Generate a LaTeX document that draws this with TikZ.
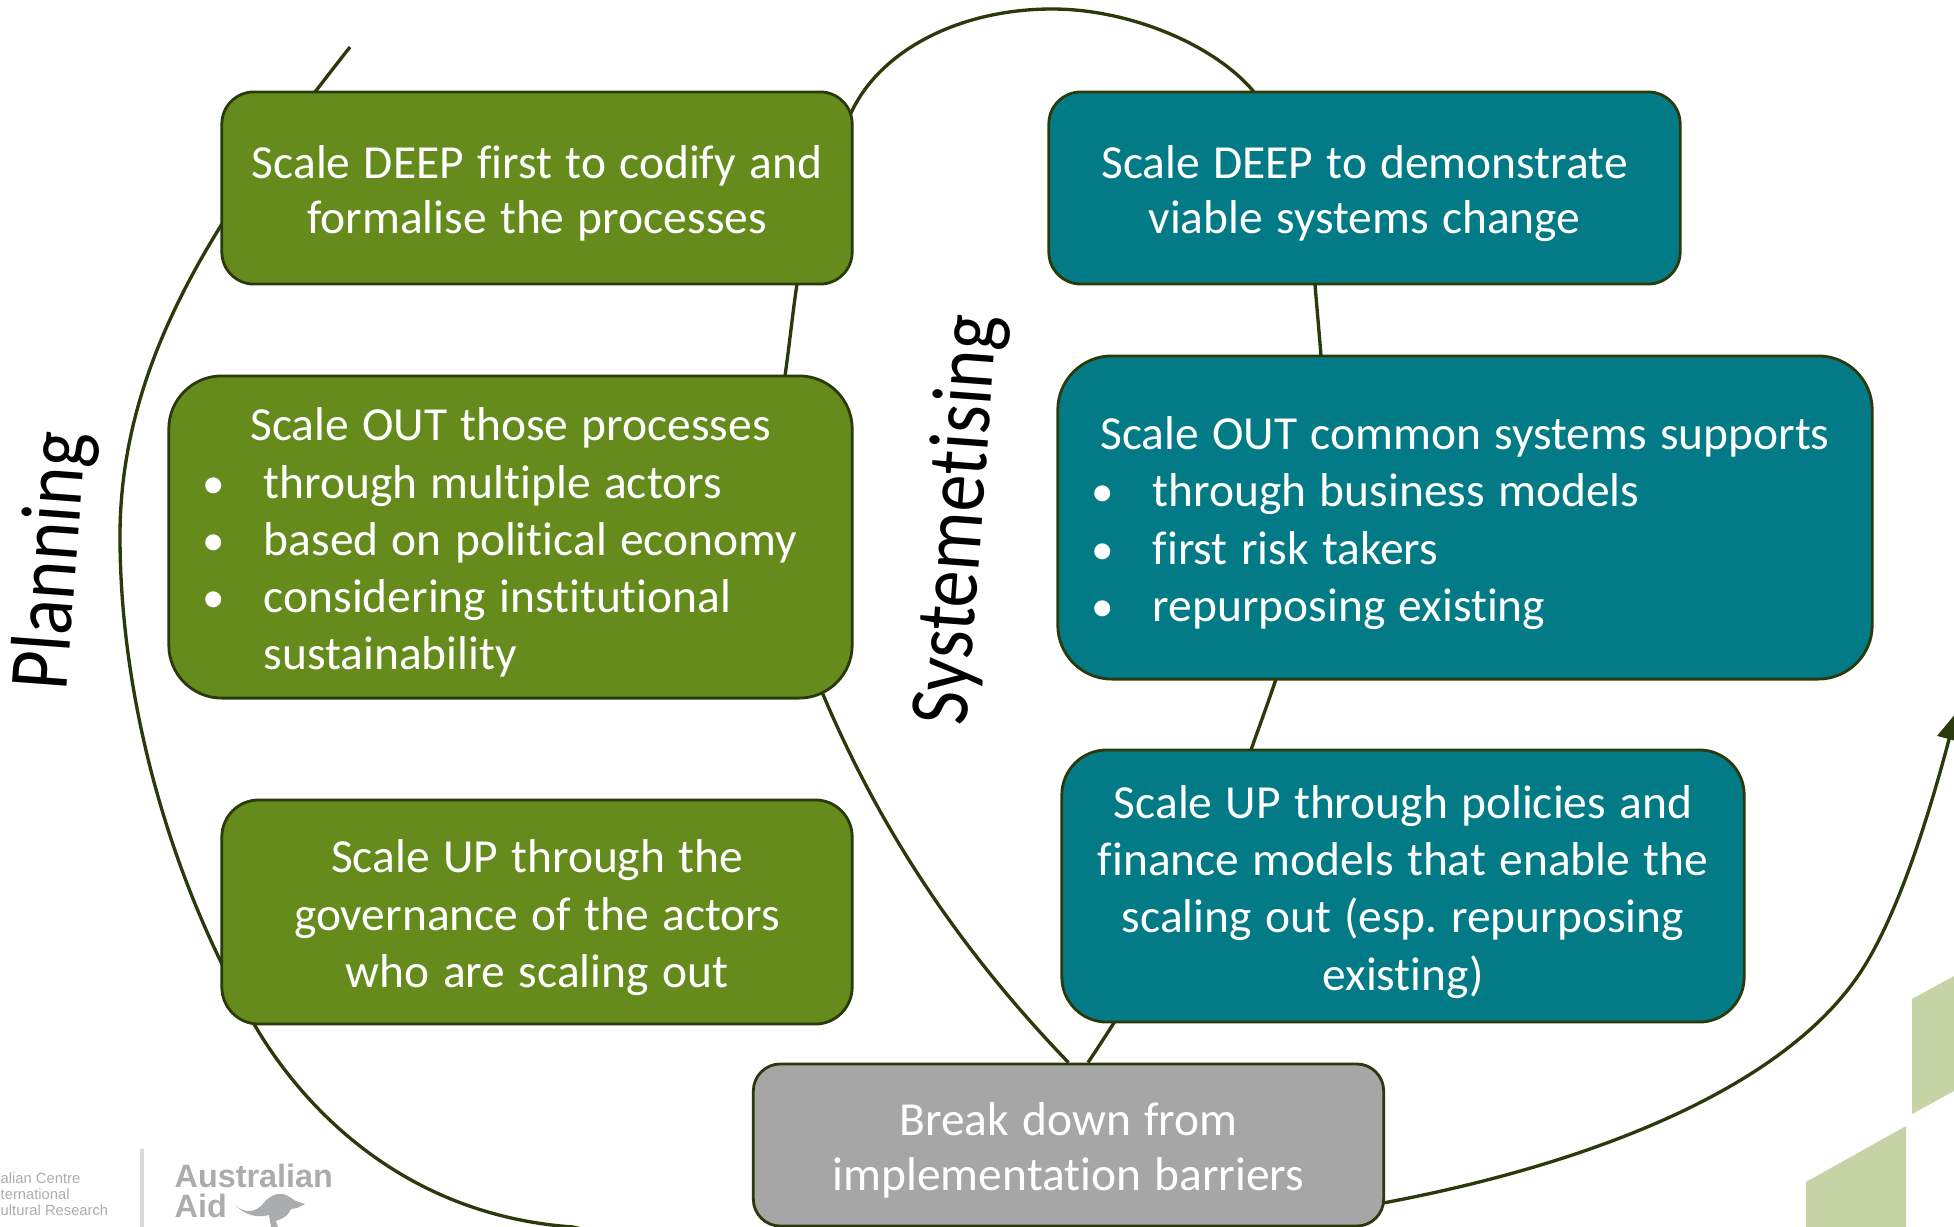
\documentclass[tikz,border=0pt]{standalone}
\usepackage{fontspec}
\setmainfont[Ligatures=NoCommon]{Carlito}
\newfontfamily\logofont{Liberation Sans}
\usetikzlibrary{backgrounds,arrows.meta}
\definecolor{leafgreen}{HTML}{658B1D}
\definecolor{tealblue}{HTML}{027B87}
\definecolor{midgrey}{HTML}{A6A6A6}
\definecolor{darkline}{HTML}{2B3A0A}
\definecolor{paleleaf}{HTML}{C6D3A4}
\definecolor{logogrey}{HTML}{ABACAE}
\tikzset{
  stagebox/.style n args={3}{draw=darkline,line width=0.8pt,rounded corners=#3,text=white,
    text width=#1,minimum height=#2,inner sep=0pt,align=center,
    execute at begin node={\frenchspacing\spaceskip=0.28em\rule{0pt}{12.6pt}},
    font=\fontsize{13.5}{16.3}\selectfont},
  deepbox/.style={font=\fontsize{13.5}{15.6}\selectfont},
  flowline/.style={draw=darkline,line width=0.95pt},
  phaselabel/.style={inner sep=0pt,rotate=85.7,font=\fontsize{21}{25}\selectfont},
  blockshape/.style={fill=paleleaf,draw=none},
}
\newcommand{\listline}[1]{\hspace{0.34cm}\makebox[0.61cm][l]{\scalebox{0.95}{\textbullet}}#1}
\begin{document}
\begin{tikzpicture}[x=0.01cm,y=-0.01cm]
\useasboundingbox (0,0) rectangle (1954,1227);
\clip (0,0) rectangle (1954,1227);
% pale shapes bottom right
\fill[blockshape] (1912,999) -- (1954,976) -- (1954,1091) -- (1912,1114) -- cycle;
\fill[blockshape] (1806,1182) -- (1906,1126) -- (1906,1227) -- (1806,1227) -- cycle;
% logos
\node[anchor=west,inner sep=0pt,text=logogrey,align=left,font=\logofont\fontsize{4.2}{4.6}\selectfont] (centrelogo) at (0,1194) {alian Centre\\ternational\\ultural Research};
\draw[logogrey!45,line width=1pt] (142,1149) -- (142,1227);
\node[anchor=west,inner sep=0pt,text=logogrey,align=left,font=\logofont\bfseries\fontsize{9.2}{8.5}\selectfont] (aidlogo) at (174,1191) {Australian\\Aid};
\fill[logogrey] (235,1205) .. controls (245,1214) and (255,1212) .. (262,1205) .. controls (268,1197) and (275,1193) .. (283,1194) .. controls (290,1196) and (293,1200) .. (296,1201) -- (305,1204) -- (297,1208) -- (291,1209) .. controls (289,1214) and (285,1218) .. (276,1221) -- (278,1227) -- (271,1227) -- (269,1215) .. controls (258,1218) and (246,1216) .. (235,1205) -- cycle;
% stage boxes
\node[stagebox={6.3cm}{1.92cm}{0.32cm},deepbox,fill=leafgreen] (deepgreen) at (537,188) {Scale DEEP first to codify and\\formalise the processes};
\node[stagebox={6.83cm}{3.22cm}{0.53cm},fill=leafgreen,align=left] (outgreen) at (510.5,537) {\makebox[6.83cm][c]{Scale OUT those processes}\\
  \listline{through multiple actors}\\
  \listline{based on political economy}\\
  \listline{considering institutional}\\
  \hspace{0.95cm}sustainability};
\node[stagebox={6.3cm}{2.24cm}{0.37cm},fill=leafgreen] (upgreen) at (537,912) {Scale UP through the\\governance of the actors\\who are scaling out};
\node[stagebox={6.31cm}{1.92cm}{0.32cm},deepbox,fill=tealblue] (deepteal) at (1364.5,188) {Scale DEEP to demonstrate\\viable systems change};
\node[stagebox={8.14cm}{3.23cm}{0.54cm},fill=tealblue,align=left] (outteal) at (1465,517.5) {\makebox[8.14cm][c]{Scale OUT common systems supports}\\
  \listline{through business models}\\
  \listline{first risk takers}\\
  \listline{repurposing existing}};
\node[stagebox={6.82cm}{2.72cm}{0.45cm},fill=tealblue] (upteal) at (1403,886) {Scale UP through policies and\\finance models that enable the\\scaling out (esp. repurposing\\existing)};
\node[stagebox={6.3cm}{1.62cm}{0.27cm},deepbox,fill=midgrey] (breakdown) at (1068.5,1145) {Break down from\\implementation barriers};
% phase labels
\node[phaselabel] (planning) at (54,561) {\scalebox{1}[1.15]{Planning}};
\node[phaselabel] (systemetising) at (960,520) {\scalebox{1}[1.15]{Systemetising}};
% the two long lines run behind the boxes
\coordinate (planstart) at (350,47);
\coordinate (planwest) at (120,536);
\coordinate (planlow) at (254,1024);
\coordinate (planedge) at (573,1227);
\coordinate (planeast) at (1383,1203);
\coordinate (planturn) at (1860,973);
\coordinate (planend) at (1956,713);
\coordinate (outgreenlow) at (822,692);
\coordinate (outgreentop) at (785,376);
\coordinate (deepgreenfoot) at (797,284);
\coordinate (sysrise) at (851,113);
\coordinate (systop) at (1052,9);
\coordinate (deeptealtop) at (1254,92);
\coordinate (deeptealfoot) at (1315,284);
\coordinate (outtealtop) at (1321,356);
\coordinate (outtealfoot) at (1276,679);
\coordinate (uptealtop) at (1251,750);
\begin{scope}[on background layer]
\draw[flowline,-{Triangle[length=0.27cm,width=0.24cm]}] (planstart) .. controls (230,200) and (120,350) .. (planwest)
  .. controls (120,700) and (170,880) .. (planlow)
  .. controls (300,1103) and (400,1215) .. (planedge)
  .. controls (680,1255) and (1250,1230) .. (planeast)
  .. controls (1560,1170) and (1775,1100) .. (planturn)
  .. controls (1895,920) and (1925,830) .. (planend);
\draw[flowline] (breakdown.north) .. controls (960,950) and (880,830) .. (outgreenlow)
  .. controls (770,570) and (770,470) .. (outgreentop)
  .. controls (790,340) and (793,310) .. (deepgreenfoot)
  .. controls (812,200) and (825,150) .. (sysrise)
  .. controls (880,50) and (960,9) .. (systop)
  .. controls (1130,9) and (1215,45) .. (deeptealtop)
  .. controls (1290,150) and (1310,220) .. (deeptealfoot)
  .. controls (1317,310) and (1319,330) .. (outtealtop)
  .. controls (1340,470) and (1310,590) .. (outtealfoot)
  .. controls (1268,703) and (1259,727) .. (uptealtop)
  .. controls (1225,830) and (1170,940) .. ([xshift=0.195cm]breakdown.north);
\end{scope}
\end{tikzpicture}
\end{document}
